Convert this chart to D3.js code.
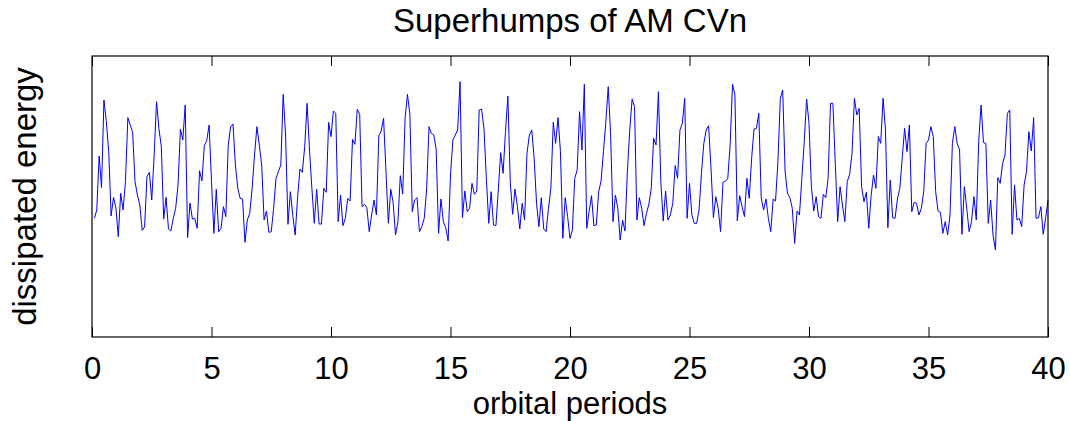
<!DOCTYPE html>
<html>
<head>
<meta charset="utf-8">
<script src="https://cdn.jsdelivr.net/npm/d3@7"></script>
<style>
  body { margin: 0; background: #fff; }
  svg { display: block; }
  text { font-family: "Liberation Sans", Arial, Helvetica, sans-serif; fill: #000; }
</style>
</head>
<body>
<svg width="1070" height="421"></svg>
<script>
// sample step in orbital periods (first sample at 0.1)
var step = 0.1;
var xTicks = [0, 5, 10, 15, 20, 25, 30, 35, 40];

// dissipated energy, arbitrary units
var energy = [
  356,381,543,448,711,646,556,363,419,388,301,431,381,466,658,636,614,466,426,396,
  320,330,481,494,411,543,706,626,571,354,419,324,318,356,386,456,624,591,696,298,
  402,354,356,326,499,468,574,589,636,466,311,443,316,326,391,361,576,631,639,516,
  446,416,414,284,351,371,446,546,631,576,516,351,378,314,316,386,476,496,516,728,
  606,338,436,366,306,416,504,494,571,701,561,446,341,443,339,339,446,434,644,601,
  678,671,346,426,334,356,416,408,593,578,683,668,391,398,388,316,366,411,366,604,
  618,656,496,341,443,404,306,346,484,429,656,728,668,376,411,418,316,331,356,441,
  631,611,606,564,311,414,346,328,288,486,591,606,621,766,358,438,376,386,461,428,
  438,681,684,626,476,341,436,336,334,441,553,491,616,723,466,368,444,391,324,401,
  351,551,606,621,536,401,331,418,324,316,386,446,644,581,658,556,296,418,361,296,
  321,476,501,676,561,758,326,376,424,334,336,436,468,556,646,751,606,346,426,386,
  291,351,318,496,621,714,691,351,418,386,334,371,398,446,596,576,736,466,348,438,
  351,366,401,514,476,621,641,716,356,461,366,341,341,381,491,581,621,634,506,358,
  421,386,316,464,468,474,576,758,728,349,424,391,361,476,416,536,624,626,671,418,
  381,414,356,316,414,408,526,716,741,496,431,418,386,281,378,366,476,586,714,641,
  451,378,421,361,356,428,418,476,701,701,521,346,451,396,346,466,488,551,716,666,
  686,451,406,434,326,424,486,446,601,581,716,621,328,471,358,356,414,446,536,626,
  556,636,376,404,401,366,386,436,581,591,631,601,436,378,374,311,346,306,366,581,
  631,581,561,308,451,386,316,346,421,351,586,696,583,581,341,411,306,261,478,461,
  521,546,671,681,308,456,351,356,331,456,496,616,558,658,356,358,391,308,356,411
];

var svg = d3.select("svg"),
    margin = {top: 56, right: 22, bottom: 84, left: 92},
    width = 1070 - margin.left - margin.right,
    height = 421 - margin.top - margin.bottom;

var data = energy.map(function(v, i) { return {t: (i + 1) * step, e: v}; });

var x = d3.scaleLinear().domain([0, 40]).range([0, width]);
var y = d3.scaleLinear().domain([0, 843]).range([height, 0]);

var g = svg.append("g")
    .attr("transform", "translate(" + margin.left + "," + margin.top + ")");

// the trace
var line = d3.line()
    .x(function(d) { return x(d.t); })
    .y(function(d) { return y(d.e); });

g.append("path")
    .datum(data)
    .attr("fill", "none")
    .attr("stroke", "#0000ff")
    .attr("stroke-width", 1)
    .attr("d", line);

// box, ticks pointing inwards like matlab
g.append("rect")
    .attr("width", width)
    .attr("height", height)
    .attr("fill", "none")
    .attr("stroke", "#000")
    .attr("stroke-width", 1.2);

var xAxis = g.append("g")
    .attr("transform", "translate(0," + height + ")")
    .call(d3.axisBottom(x).tickValues(xTicks).tickSizeInner(-10).tickSizeOuter(0).tickPadding(20));

xAxis.select(".domain").remove();
xAxis.selectAll("line").attr("stroke", "#000");
xAxis.selectAll("text")
    .attr("font-size", 31)
    .attr("font-family", "Liberation Sans, Arial, sans-serif");

var xTop = g.append("g")
    .call(d3.axisTop(x).tickValues(xTicks).tickSizeInner(-10).tickSizeOuter(0).tickFormat(""));
xTop.select(".domain").remove();

// labels
svg.append("text")
    .attr("x", margin.left + width / 2)
    .attr("y", 32)
    .attr("text-anchor", "middle")
    .attr("font-size", 33)
    .text("Superhumps of AM CVn");

svg.append("text")
    .attr("x", margin.left + width / 2)
    .attr("y", 414)
    .attr("text-anchor", "middle")
    .attr("font-size", 31)
    .text("orbital periods");

svg.append("text")
    .attr("transform", "translate(36," + (margin.top + height / 2) + ") rotate(-90)")
    .attr("text-anchor", "middle")
    .attr("font-size", 33)
    .text("dissipated energy");
</script>
</body>
</html>
